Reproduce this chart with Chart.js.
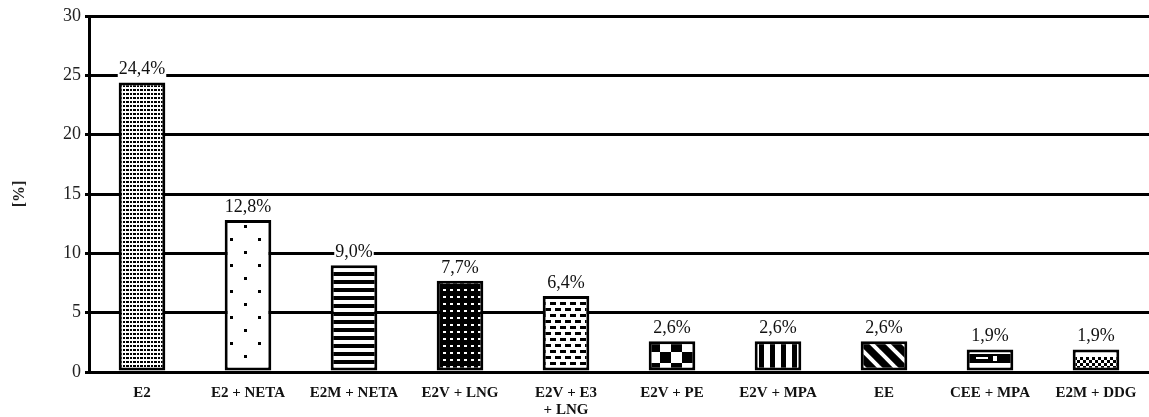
<!DOCTYPE html>
<html>
<head>
<meta charset="utf-8">
<script src="https://cdn.jsdelivr.net/npm/chart.js@4/dist/chart.umd.min.js"></script>
<style>
  html, body { margin: 0; padding: 0; background: #fff; }
  #wrap { width: 1149px; height: 417px; position: relative; }
</style>
</head>
<body>
<div id="wrap"><canvas id="chart" width="1149" height="417"></canvas></div>
<script>
// Regimens and their share of prescriptions
const categories = ['E2', 'E2 + NETA', 'E2M + NETA', 'E2V + LNG', ['E2V + E3', '+ LNG'],
  'E2V + PE', 'E2V + MPA', 'EE', 'CEE + MPA', 'E2M + DDG'];
const shares = [24.4, 12.8, 9.0, 7.7, 6.4, 2.6, 2.6, 2.6, 1.9, 1.9];
const yTicks = [0, 5, 10, 15, 20, 25, 30];

const SERIF = '"Liberation Serif", "Times New Roman", serif';

// ---- fill patterns, one per bar ----
function tile(w, h, bg, draw) {
  const c = document.createElement('canvas');
  c.width = w; c.height = h;
  const g = c.getContext('2d');
  g.fillStyle = bg; g.fillRect(0, 0, w, h);
  draw(g);
  return c;
}
const pctx = document.createElement('canvas').getContext('2d');
function pattern(c) { return pctx.createPattern(c, 'repeat'); }

const patterns = [
  // dense dots in columns
  pattern(tile(7, 4, '#fff', g => { g.fillStyle = '#000'; g.fillRect(0, 1, 3, 2); g.fillRect(4, 1, 2, 2); })),
  // sparse staggered dots
  pattern(tile(28, 26, '#fff', g => { g.fillStyle = '#000'; g.fillRect(6, 4, 3, 3); g.fillRect(20, 17, 3, 3); })),
  // horizontal stripes
  pattern(tile(4, 8, '#fff', g => { g.fillStyle = '#000'; g.fillRect(0, 0, 4, 4); })),
  // white dots on black
  pattern(tile(7, 7, '#000', g => { g.fillStyle = '#fff'; g.fillRect(2, 2, 3, 2); })),
  // staggered dashes
  pattern(tile(10, 12, '#fff', g => { g.fillStyle = '#000'; g.fillRect(0, 2, 6, 3); g.fillRect(5, 8, 6, 3); g.fillRect(-5, 8, 6, 3); })),
  // large checkerboard
  pattern(tile(22, 22, '#fff', g => { g.fillStyle = '#000'; g.fillRect(0, 0, 11, 11); g.fillRect(11, 11, 11, 11); })),
  // vertical stripes
  pattern(tile(11, 4, '#fff', g => { g.fillStyle = '#000'; g.fillRect(0, 0, 5, 4); })),
  // white diagonal bands on black
  pattern(tile(16, 16, '#000', g => {
    g.strokeStyle = '#fff'; g.lineWidth = 4;
    [-16, 0, 16].forEach(o => { g.beginPath(); g.moveTo(o - 4, -4); g.lineTo(o + 20, 20); g.stroke(); });
  })),
  // bricks
  pattern(tile(36, 20, '#fff', g => { g.fillStyle = '#000'; g.fillRect(0, 5, 36, 9); g.fillStyle = '#fff'; g.fillRect(21, 7, 4, 5); g.fillRect(4, 8, 12, 2); })),
  // small checker under a white band
  pattern(tile(6, 24, '#fff', g => { g.fillStyle = '#000'; for (let y = 8; y < 24; y += 6) { g.fillRect(0, y, 3, 3); g.fillRect(3, y + 3, 3, 3); } }))
];

// aligns the last two fills to the top of their bars
const alignFill = {
  id: 'alignFill',
  beforeDatasetsDraw(chart) {
    const meta = chart.getDatasetMeta(0);
    [8, 9].forEach(i => {
      const p = patterns[i];
      if (p && p.setTransform) p.setTransform(new DOMMatrix([1, 0, 0, 1, 0, Math.round(meta.data[i].y)]));
    });
  }
};

// value labels above the bars
const valueLabels = {
  id: 'valueLabels',
  afterDatasetsDraw(chart) {
    const { ctx } = chart;
    const meta = chart.getDatasetMeta(0);
    ctx.save();
    ctx.font = '18px ' + SERIF;
    ctx.textAlign = 'center';
    ctx.textBaseline = 'alphabetic';
    meta.data.forEach((bar, i) => {
      const txt = shares[i].toFixed(1).replace('.', ',') + '%';
      const w = ctx.measureText(txt).width;
      const base = bar.y - 8;
      ctx.fillStyle = '#fff';
      ctx.fillRect(bar.x - w / 2 - 1, base - 13, w + 2, 16);
      ctx.fillStyle = '#111';
      ctx.fillText(txt, bar.x, base);
    });
    ctx.restore();
  }
};

new Chart(document.getElementById('chart'), {
  type: 'bar',
  data: {
    labels: categories,
    datasets: [{
      data: shares,
      backgroundColor: patterns,
      borderColor: '#000',
      borderWidth: 3,
      borderSkipped: false,
      categoryPercentage: 1,
      barPercentage: 0.44
    }]
  },
  options: {
    responsive: false,
    animation: false,
    devicePixelRatio: 1,
    layout: { padding: { top: 16, right: 0, left: 0, bottom: 0 } },
    plugins: { legend: { display: false }, tooltip: { enabled: false } },
    scales: {
      x: {
        offset: true,
        grid: { display: false },
        border: { display: true, color: '#000', width: 3 },
        ticks: {
          color: '#111',
          font: { family: SERIF, size: 15, weight: 'bold', lineHeight: 1.15 },
          padding: 4,
          maxRotation: 0,
          autoSkip: false
        },
        afterFit(scale) { scale.height = 45; }
      },
      y: {
        min: 0,
        max: 30,
        afterBuildTicks(scale) { scale.ticks = yTicks.map(v => ({ value: v })); },
        grid: { color: '#000', lineWidth: 3, tickLength: 4, drawTicks: true },
        border: { display: true, color: '#000', width: 3 },
        ticks: {
          color: '#222',
          font: { family: SERIF, size: 18 },
          padding: 4
        },
        title: {
          display: true,
          text: '[%]',
          color: '#222',
          font: { family: SERIF, size: 16, weight: 'bold' },
          padding: { top: 10, bottom: 0 }
        },
        afterFit(scale) { scale.width = 89; }
      }
    }
  },
  plugins: [alignFill, valueLabels]
});
</script>
</body>
</html>
